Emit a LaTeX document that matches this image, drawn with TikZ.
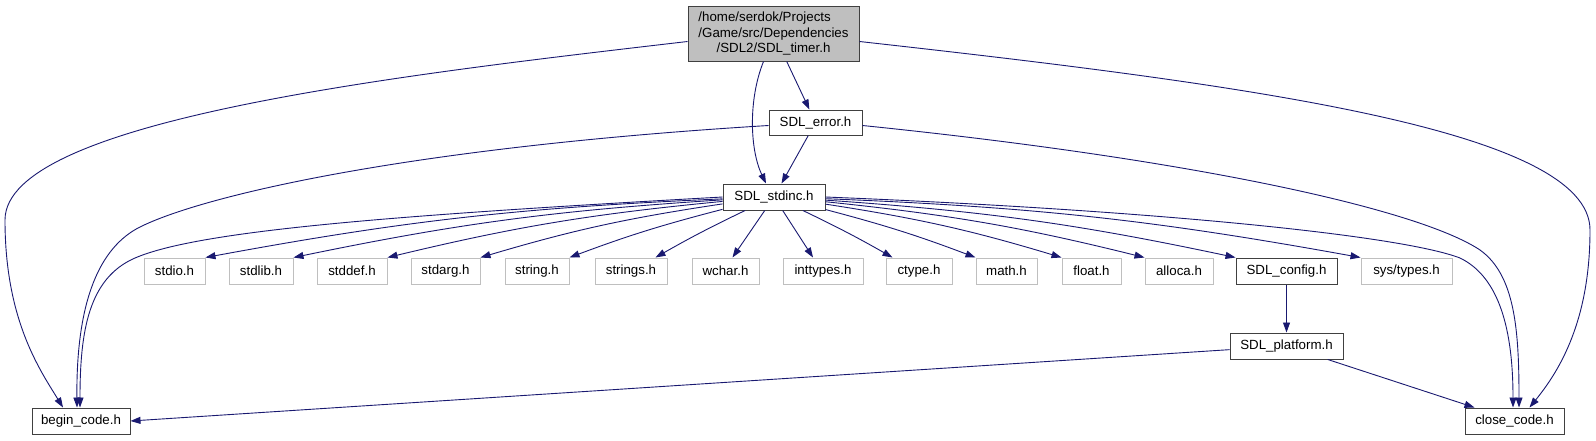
\documentclass[tikz,border=0pt]{standalone}
\usepackage{fontspec}
\setmainfont{Liberation Sans}
\usetikzlibrary{arrows.meta}
\definecolor{edgeblue}{RGB}{25, 25, 112}
\definecolor{boxgray}{RGB}{191, 191, 191}

\begin{document}
\begin{tikzpicture}[x=1pt, y=-1pt,
    hdr/.style={draw=black!75, fill=white, line width=1pt, minimum height=26pt, inner sep=0pt, font=\fontsize{13.3}{15.5}\selectfont},
    ext/.style={hdr, draw=boxgray},
    root/.style={hdr, fill=boxgray, align=center, minimum height=55pt},
    dep/.style={draw=edgeblue, line width=0.9pt, -{Triangle[length=10pt, width=7pt]}},
  ]
  \useasboundingbox (0,0) rectangle (1596,440);

  % headers
  \node[root, minimum width=171pt] (timer) at (773.5,33.5) {\makebox[0pt][l]{/home/serdok/Projects}\phantom{/Game/src/Dependencies}\\/Game/src/Dependencies\\/SDL2/SDL\_timer.h};
  \node[hdr, minimum width=93pt, minimum height=25pt] (error) at (815.5,122.5) {SDL\_error.h};
  \node[hdr, minimum width=102pt] (stdinc) at (774,197) {SDL\_stdinc.h};
  \node[ext, minimum width=61pt] (stdio) at (174.5,271) {stdio.h};
  \node[ext, minimum width=64pt] (stdlib) at (261,271) {stdlib.h};
  \node[ext, minimum width=70pt] (stddef) at (352,271) {stddef.h};
  \node[ext, minimum width=69pt] (stdarg) at (445.5,271) {stdarg.h};
  \node[ext, minimum width=64pt] (string) at (537,271) {string.h};
  \node[ext, minimum width=72pt] (strings) at (631,271) {strings.h};
  \node[ext, minimum width=67pt] (wchar) at (725.5,271) {wchar.h};
  \node[ext, minimum width=80pt] (inttypes) at (823,271) {inttypes.h};
  \node[ext, minimum width=66pt] (ctype) at (919,271) {ctype.h};
  \node[ext, minimum width=61pt] (math) at (1006.5,271) {math.h};
  \node[ext, minimum width=59pt] (float) at (1091.5,271) {float.h};
  \node[ext, minimum width=68pt] (alloca) at (1179,271) {alloca.h};
  \node[hdr, minimum width=101pt] (config) at (1286.5,271) {SDL\_config.h};
  \node[ext, minimum width=91pt] (systypes) at (1406.5,271) {sys/types.h};
  \node[hdr, minimum width=113pt] (platform) at (1286.5,346) {SDL\_platform.h};
  \node[hdr, minimum width=98pt] (begincode) at (81,421) {begin\_code.h};
  \node[hdr, minimum width=99pt] (closecode) at (1514.5,421) {close\_code.h};

  % includes of SDL_timer.h
  \draw[dep] (timer) -- (error);
  \draw[dep] ([xshift=-10pt]timer.south) .. controls (748,100) and (750,150) .. ([xshift=-8pt]stdinc.north);
  \draw[dep] ([yshift=-8pt]timer.west) .. controls (400,75) and (5,120) .. (5,220) .. controls (5,320) and (40,370) .. ([xshift=-18pt]begincode.north);
  \draw[dep] ([yshift=-8pt]timer.east) .. controls (1250,85) and (1590,130) .. (1590,230) .. controls (1590,320) and (1560,370) .. ([xshift=15pt]closecode.north);

  % includes of SDL_error.h
  \draw[dep] (error) -- (stdinc);
  \draw[dep] ([yshift=-3pt]error.west) .. controls (400,148) and (200,197) .. (140,227) .. controls (100,247) and (76,300) .. ([xshift=-4pt]begincode.north);
  \draw[dep] ([yshift=-3pt]error.east) .. controls (1200,160) and (1420,210) .. (1480,250) .. controls (1515,275) and (1519,330) .. ([xshift=4.5pt]closecode.north);

  % includes of SDL_stdinc.h
  \draw[dep] (stdinc.west) .. controls (400,215) and (200,230) .. (135,258) .. controls (89,278) and (80,330) .. ([xshift=-1pt]begincode.north);
  \draw[dep] (stdinc.east) .. controls (1150,210) and (1400,235) .. (1460,258) .. controls (1495,275) and (1513,320) .. ([xshift=-1.5pt]closecode.north);
  \draw[dep] (stdinc) to[bend right=4] (stdio.north east);
  \draw[dep] (stdinc) to[bend right=4] (stdlib.north east);
  \draw[dep] (stdinc) to[bend right=4] (stddef.north east);
  \draw[dep] (stdinc) to[bend right=4] (stdarg.north east);
  \draw[dep] (stdinc) to[bend right=3] (string.north east);
  \draw[dep] (stdinc) to[bend right=2] ([xshift=-12pt]strings.north east);
  \draw[dep] (stdinc) -- ([xshift=7pt]wchar.north);
  \draw[dep] (stdinc) -- ([xshift=-10pt]inttypes.north);
  \draw[dep] (stdinc) to[bend left=2] ([xshift=7pt]ctype.north west);
  \draw[dep] (stdinc) to[bend left=3] (math.north west);
  \draw[dep] (stdinc) to[bend left=4] (float.north west);
  \draw[dep] (stdinc) to[bend left=4] (alloca.north west);
  \draw[dep] (stdinc) to[bend left=4] (config.north west);
  \draw[dep] (stdinc) to[bend left=4] (systypes.north west);

  % SDL_config.h and SDL_platform.h
  \draw[dep] (config) -- (platform);
  \draw[dep] (platform) -- (begincode.east);
  \draw[dep] (platform) -- ([xshift=10pt]closecode.north west);
\end{tikzpicture}
\end{document}
